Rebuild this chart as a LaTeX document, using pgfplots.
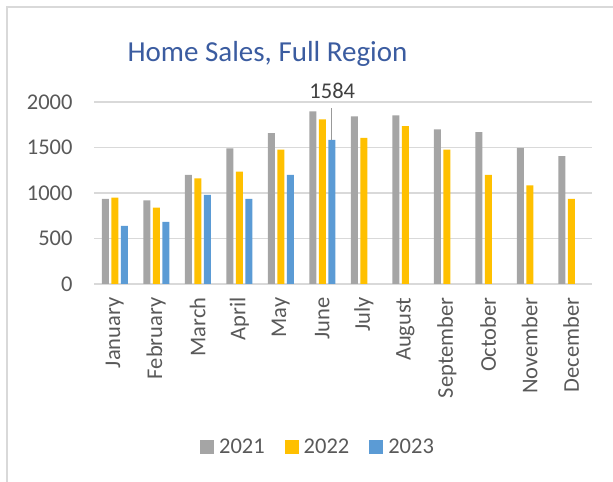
\documentclass[border=0pt]{standalone}
\usepackage{fontspec}
\setmainfont{Carlito}
\usepackage{pgfplots}
\pgfplotsset{compat=1.18}
\definecolor{c21}{HTML}{A5A5A5}
\definecolor{c22}{HTML}{FFC000}
\definecolor{c23}{HTML}{5B9BD5}
\definecolor{gridc}{HTML}{D9D9D9}
\definecolor{txt}{HTML}{595959}
\definecolor{titleblue}{HTML}{3B5CA0}
\newcommand{\lbl}{\fontsize{22.5bp}{27bp}\selectfont}

% monthly home sales, 2021-2023 (2023 only to June)
\pgfplotstableread{
m y21 y22
0 935 950
1 920 840
2 1198 1160
3 1490 1235
4 1658 1478
5 1897 1810
6 1843 1605
7 1853 1736
8 1700 1478
9 1670 1198
10 1495 1085
11 1405 935
}\sales
\pgfplotstableread{
m y23
0 638
1 682
2 980
3 935
4 1198
5 1584
}\salesB

\begin{document}
\begin{tikzpicture}
\useasboundingbox (0bp,0bp) rectangle (613bp,482bp);
\draw[gridc, line width=2bp] (6.7bp,0bp) -- (6.7bp,475.3bp) -- (613bp,475.3bp);
\node[text=titleblue, font=\fontsize{29bp}{34bp}\selectfont, anchor=base]
  at (267.5bp,420bp) {Home Sales, Full Region};
\begin{axis}[
  at={(94bp,198bp)}, anchor=south west,
  scale only axis, width=498bp, height=182bp,
  xmin=-0.5, xmax=11.5, ymin=0, ymax=2000,
  ytick={0,500,...,2000},
  xtick=data,
  xticklabels={January,February,March,April,May,June,July,August,September,October,November,December},
  ybar, bar width=7bp,
  axis line style={draw=none},
  major tick length=0pt,
  ymajorgrids, major grid style={gridc, line width=1.3bp},
  tick label style={font=\lbl, text=txt},
  /pgf/number format/assume math mode=true,
  /pgf/number format/1000 sep={},
  xticklabel style={yshift=-10bp, rotate=90, anchor=east},
  yticklabel style={xshift=-18bp},
  clip=false,
  legend style={at={(0.4498,-0.8956)}, anchor=center, draw=none, fill=none,
    legend columns=3, font=\lbl, text=txt,
    /tikz/every odd column/.append style={column sep=3bp},
    /tikz/every even column/.append style={column sep=18bp}},
  legend image code/.code={\fill[#1] (0bp,-7bp) rectangle (14bp,7bp);},
]
\addplot[fill=c21, draw=none, bar shift=-9.5bp] table[x=m, y=y21] {\sales};
\addlegendentry{2021}
\addplot[fill=c22, draw=none, bar shift=0bp] table[x=m, y=y22] {\sales};
\addlegendentry{2022}
\addplot[fill=c23, draw=none, bar shift=9.5bp] table[x=m, y=y23] {\salesB};
\addlegendentry{2023}
\draw[gray!80, line width=1bp] ([xshift=9.5bp]axis cs:5,1584) -- ([xshift=9.5bp]axis cs:5,1935);
\node[font=\lbl, text=black!75, anchor=base] at ([xshift=10bp]axis cs:5,2040) {1584};
\end{axis}
\end{tikzpicture}
\end{document}
